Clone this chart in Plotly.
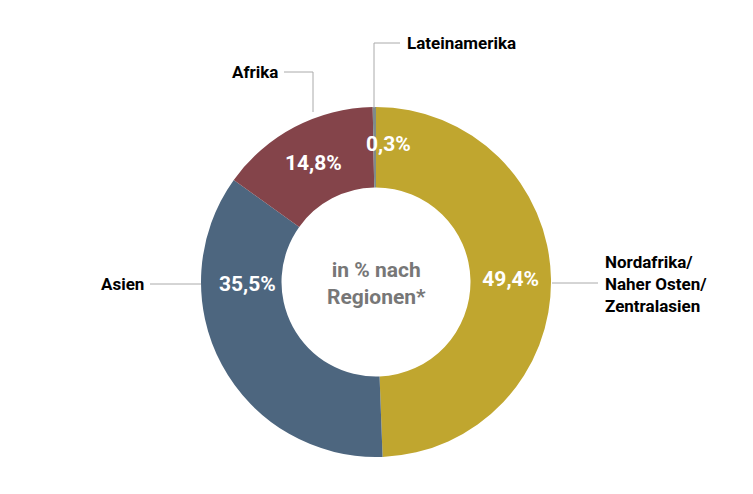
import plotly.graph_objects as go

labels = ["Nordafrika/<br>Naher Osten/<br>Zentralasien", "Asien", "Afrika", "Lateinamerika"]
values = [49.4, 35.5, 14.8, 0.3]
value_text = ["49,4%", "", "14,8%", ""]
colors = ["#C0A62F", "#4D667F", "#84444A", "#7F8C8A"]
FONT = "Roboto, sans-serif"
W, H = 753, 494
OFF = 8

def px(x, y):
    return (x - OFF) / W, 1 - (y - OFF) / H

dx0, dy1 = px(201, 107)
dx1, dy0 = px(551, 457)
fig = go.Figure(go.Pie(
    labels=labels, values=values, text=value_text, textinfo="text",
    textposition="inside", insidetextorientation="horizontal",
    textfont=dict(family=FONT, size=21, color="white"),
    marker=dict(colors=colors, line=dict(width=0)),
    hole=0.54, sort=False, direction="clockwise", rotation=0,
    domain=dict(x=[dx0, dx1], y=[dy0, dy1]),
    showlegend=False, hoverinfo="label+percent"))

shapes = []
def line(pts):
    for (a, b) in zip(pts[:-1], pts[1:]):
        x0, y0 = px(*a); x1, y1 = px(*b)
        shapes.append(dict(type="line", xref="paper", yref="paper", x0=x0, y0=y0, x1=x1, y1=y1,
                           line=dict(color="#AAAAAA", width=1)))
line([(552, 283), (598, 283)])
line([(150, 284), (201, 284)])
line([(284, 72), (313, 72), (313, 112)])
line([(374, 108), (374, 43), (400, 43)])

ann = []
def text(x, y, s, anchor, size=17, color="black", align="left"):
    ax, ay = px(x, y)
    ann.append(dict(xref="paper", yref="paper", x=ax, y=ay, text=s, showarrow=False,
                    xanchor=anchor, yanchor="middle", align=align,
                    font=dict(family=FONT, size=size, color=color)))
text(603, 284, "<b>Nordafrika/<br>Naher Osten/<br>Zentralasien</b>", "left")
text(146, 284, "<b>Asien</b>", "right")
text(280, 72, "<b>Afrika</b>", "right")
text(405, 43, "<b>Lateinamerika</b>", "left")
text(388, 144, "<b>0,3%</b>", "center", size=21, color="white")
text(247, 284, "<b>35,5%</b>", "center", size=21, color="white")
text(376, 283, "<b>in % nach<br>Regionen*</b>", "center", size=21, color="#777777", align="center")

fig.update_layout(width=W, height=H, margin=dict(l=0, r=0, t=0, b=0),
                  paper_bgcolor="white", plot_bgcolor="white",
                  shapes=shapes, annotations=ann)
fig.update_traces(texttemplate="<b>%{text}</b>")
fig.write_html("out.html")
